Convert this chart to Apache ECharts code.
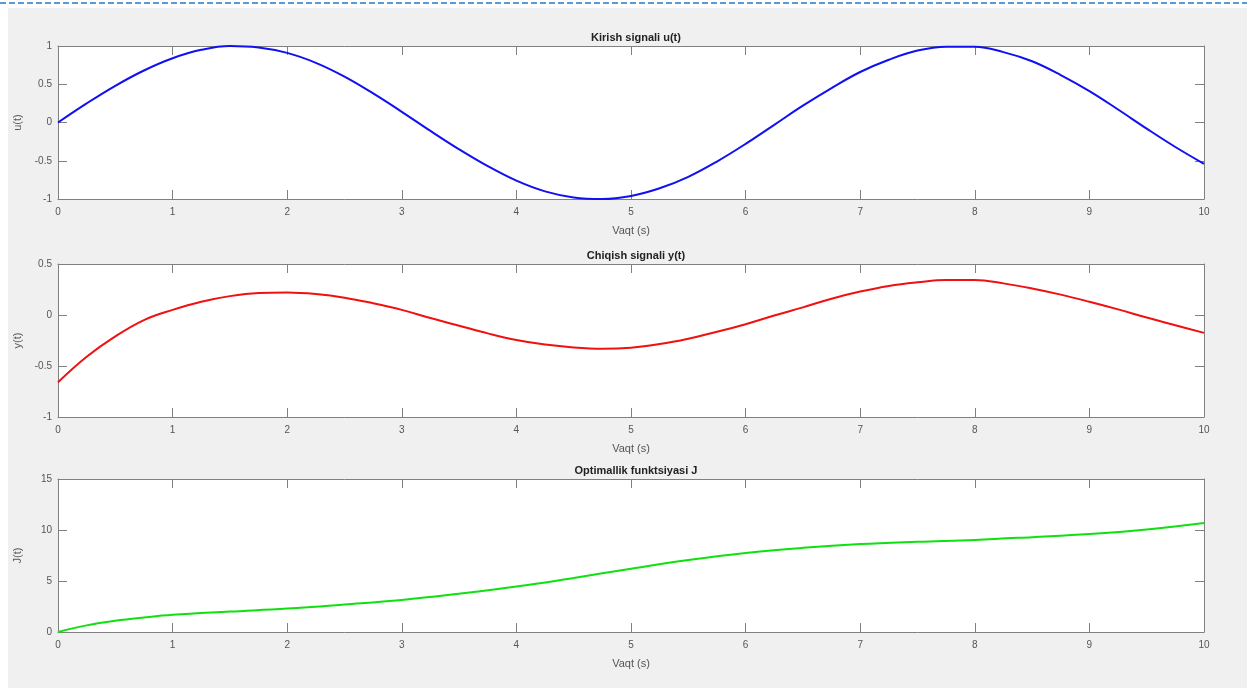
<!DOCTYPE html>
<html>
<head>
<meta charset="utf-8">
<title>Kirish / Chiqish signali</title>
<style>
  html, body { margin: 0; padding: 0; background: #fff; }
  #frame { position: absolute; left: 8px; top: 8px; width: 1239px; height: 680px; background: #f0f0f0; }
  #dash { position: absolute; left: 0; top: 2px; width: 1247px; height: 2px;
          background: repeating-linear-gradient(to right, #5b9bd5 0 6px, transparent 6px 9px); }
  #main { position: absolute; left: 0; top: 0; width: 1247px; height: 688px; }
</style>
</head>
<body>
<div id="frame"></div>
<div id="dash"></div>
<div id="main"></div>
<script src="https://cdn.jsdelivr.net/npm/echarts@6/dist/echarts.min.js"></script>
<script type="text/javascript">
// vaqt (s)
var tFine = [0, 0.25, 0.5, 0.75, 1, 1.25, 1.5, 1.75, 2, 2.25, 2.5, 2.75, 3, 3.25, 3.5, 3.75,
             4, 4.25, 4.5, 4.75, 5, 5.25, 5.5, 5.75, 6, 6.25, 6.5, 6.75, 7, 7.25, 7.5, 7.75,
             8, 8.25, 8.5, 8.75, 9, 9.25, 9.5, 9.75, 10];
// kirish signali u(t)
var uVals = [0, 0.25, 0.48, 0.68, 0.84, 0.95, 1.0, 0.98, 0.91, 0.78, 0.6, 0.38, 0.14, -0.11, -0.35, -0.57,
             -0.76, -0.9, -0.98, -1.0, -0.96, -0.86, -0.71, -0.51, -0.28, -0.03, 0.22, 0.45, 0.66, 0.82, 0.94, 0.99,
             0.99, 0.92, 0.8, 0.62, 0.41, 0.17, -0.08, -0.32, -0.54];
// chiqish signali y(t)
var yVals = [-0.66, -0.41, -0.21, -0.05, 0.05, 0.13, 0.185, 0.215, 0.22, 0.205, 0.17, 0.115, 0.05, -0.03, -0.105, -0.18,
             -0.245, -0.29, -0.318, -0.33, -0.32, -0.285, -0.232, -0.165, -0.09, -0.005, 0.075, 0.16, 0.23, 0.285, 0.32, 0.343,
             0.343, 0.31, 0.26, 0.2, 0.13, 0.055, -0.025, -0.1, -0.175];
// optimallik funktsiyasi J
var tJ = [0, 0.25, 0.5, 0.75, 1, 1.5, 2, 2.5, 3, 3.5, 4, 4.5, 5, 5.5, 6, 6.5, 7, 7.5, 8, 8.5, 9, 9.5, 10];
var jVals = [0, 0.65, 1.1, 1.42, 1.68, 2.0, 2.3, 2.7, 3.14, 3.75, 4.45, 5.3, 6.2, 7.05, 7.75, 8.25, 8.62, 8.85, 9.03, 9.3, 9.6, 10.05, 10.68];

var titles = ['Kirish signali u(t)', 'Chiqish signali y(t)', 'Optimallik funktsiyasi J'];
var yNames = ['u(t)', 'y(t)', 'J(t)'];
var yMin = [-1, -1, 0];
var yMax = [1, 0.5, 15];
var yStep = [0.5, 0.5, 5];
var xLabel = 'Vaqt (s)';

function pairs(xs, vs) {
  return xs.map(function (x, i) { return [x, vs[i]]; });
}

var lineCol = '#808080';
var textCol = '#555555';
var font = 'Liberation Sans, Arial, sans-serif';
var tops = [46, 264, 479];
var grids = [], xAxes = [], yAxes = [], titleList = [];

function frameLine() {
  return { show: true, onZero: false, lineStyle: { color: lineCol, width: 1 } };
}
function frameTick() {
  return { show: true, inside: true, length: 9, lineStyle: { color: lineCol } };
}

tops.forEach(function (top, i) {
  grids.push({ left: 58, width: 1146, top: top, height: 153, show: true,
               backgroundColor: '#ffffff', borderWidth: 0 });
  titleList.push({
    text: titles[i], left: 631, top: top - 19, textAlign: 'center',
    textStyle: { fontFamily: font, fontSize: 11, fontWeight: 'bold', color: '#222222' }
  });
  // bottom and top x axes
  xAxes.push({
    type: 'value', gridIndex: i, min: 0, max: 10, interval: 1, position: 'bottom',
    name: xLabel, nameLocation: 'middle', nameGap: 26,
    nameTextStyle: { fontFamily: font, fontSize: 11, color: textCol },
    axisLine: frameLine(), axisTick: frameTick(),
    axisLabel: { fontFamily: font, fontSize: 10, color: textCol, margin: 8 },
    splitLine: { show: false }
  });
  xAxes.push({
    type: 'value', gridIndex: i, min: 0, max: 10, interval: 1, position: 'top',
    axisLine: frameLine(), axisTick: frameTick(),
    axisLabel: { show: false }, splitLine: { show: false }
  });
  // left and right y axes
  yAxes.push({
    type: 'value', gridIndex: i, min: yMin[i], max: yMax[i], interval: yStep[i], position: 'left',
    name: yNames[i], nameLocation: 'middle', nameGap: 35, nameRotate: 90,
    nameTextStyle: { fontFamily: font, fontSize: 11, color: textCol },
    axisLine: frameLine(), axisTick: frameTick(),
    axisLabel: { fontFamily: font, fontSize: 10, color: textCol, margin: 6 },
    splitLine: { show: false }
  });
  yAxes.push({
    type: 'value', gridIndex: i, min: yMin[i], max: yMax[i], interval: yStep[i], position: 'right',
    axisLine: frameLine(), axisTick: frameTick(),
    axisLabel: { show: false }, splitLine: { show: false }
  });
});

var myChart = echarts.init(document.getElementById('main'));

var option = {
  backgroundColor: 'transparent',
  animation: false,
  title: titleList,
  grid: grids,
  xAxis: xAxes,
  yAxis: yAxes,
  series: [
    { type: 'line', xAxisIndex: 0, yAxisIndex: 0, data: pairs(tFine, uVals), smooth: 0.4,
      showSymbol: false, lineStyle: { color: '#1010f0', width: 2 } },
    { type: 'line', xAxisIndex: 2, yAxisIndex: 2, data: pairs(tFine, yVals), smooth: 0.4,
      showSymbol: false, lineStyle: { color: '#f01010', width: 2 } },
    { type: 'line', xAxisIndex: 4, yAxisIndex: 4, data: pairs(tJ, jVals), smooth: 0.4,
      showSymbol: false, lineStyle: { color: '#10e010', width: 2 } }
  ]
};

myChart.setOption(option);
</script>
</body>
</html>
